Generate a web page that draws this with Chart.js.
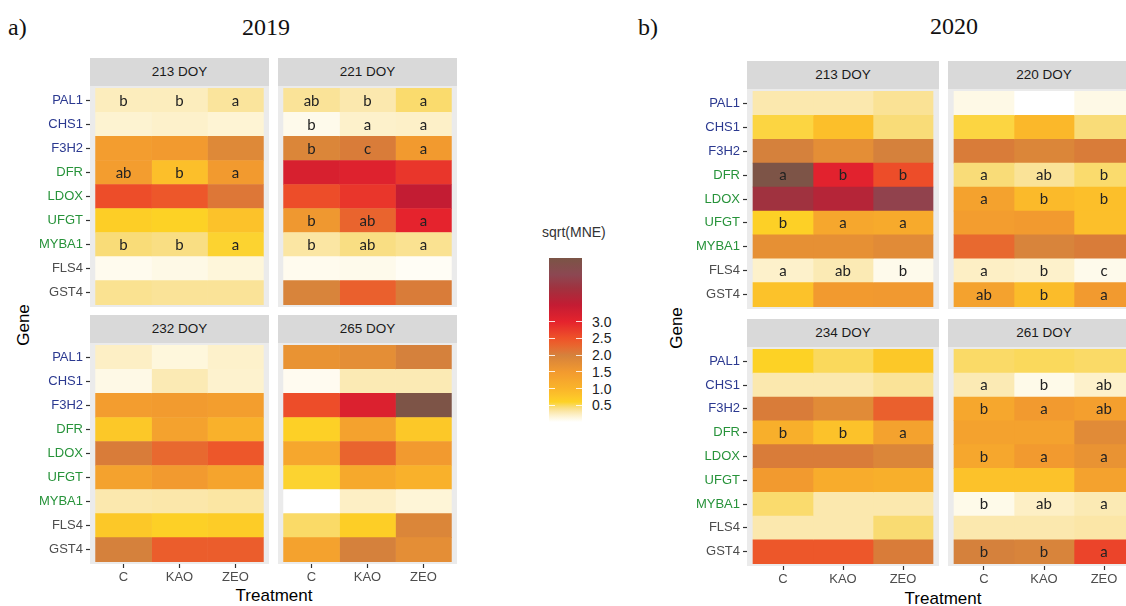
<!DOCTYPE html>
<html>
<head>
<meta charset="utf-8">
<script src="https://cdn.jsdelivr.net/npm/chart.js@4.4.1/dist/chart.umd.min.js"></script>
<style>
  body { margin: 0; width: 1126px; height: 606px; overflow: hidden; background: #fff; position: relative; font-family: "Liberation Sans", Arial, sans-serif; }
  .abs { position: absolute; }
  .serif { font-family: "Liberation Serif", "DejaVu Serif", serif; font-size: 24px; color: #111; }
  .strip { background: #D9D9D9; color: #1a1a1a; font-size: 13.5px; text-align: center; line-height: 28px; height: 28px; }
  .axtitle { font-size: 17px; color: #000; text-align: center; line-height: 20px; height: 20px; white-space: nowrap; }
  .rot { transform: rotate(-90deg); }
  .lgtick { font-size: 14px; color: #222; line-height: 16px; }
</style>
</head>
<body>
<div id="root"></div>
<script>
// genes (rows) and treatments (columns)
const genes = ['PAL1', 'CHS1', 'F3H2', 'DFR', 'LDOX', 'UFGT', 'MYBA1', 'FLS4', 'GST4'];
const treatments = ['C', 'KAO', 'ZEO'];
const legendTicks = [0.5, 1.0, 1.5, 2.0, 2.5, 3.0];
const legendMax = 4.9;

// sqrt(MNE), one row per gene, columns C, KAO, ZEO
const v2019_213 = [[0.25, 0.25, 0.35], [0.18, 0.2, 0.17], [1.45, 1.5, 1.85], [1.45, 0.85, 1.5], [2.55, 2.45, 2.1],
                   [0.65, 0.6, 0.8], [0.45, 0.42, 0.58], [0.07, 0.1, 0.15], [0.38, 0.36, 0.36]];
const v2019_221 = [[0.36, 0.3, 0.47], [0.08, 0.2, 0.21], [1.9, 2.05, 1.5], [3.2, 3.1, 2.8], [2.55, 2.8, 3.5],
                   [1.55, 2.3, 3.0], [0.33, 0.42, 0.38], [0.07, 0.08, 0.04], [1.95, 2.35, 2.05]];
const v2019_232 = [[0.22, 0.14, 0.2], [0.1, 0.28, 0.19], [1.45, 1.48, 1.42], [0.72, 1.35, 1.05], [2.05, 2.25, 2.45],
                   [1.35, 1.5, 1.3], [0.3, 0.31, 0.33], [0.72, 0.62, 0.67], [2.0, 2.38, 2.38]];
const v2019_265 = [[1.65, 1.75, 2.0], [0.06, 0.28, 0.28], [2.55, 3.15, 4.85], [0.63, 1.35, 0.72], [1.25, 2.3, 1.5],
                   [0.58, 1.22, 1.05], [0.0, 0.22, 0.16], [0.48, 0.65, 1.9], [1.35, 2.0, 1.75]];
const v2020_213 = [[0.3, 0.3, 0.37], [0.55, 0.85, 0.45], [2.0, 1.75, 2.0], [4.85, 3.05, 2.55], [4.0, 3.7, 4.3],
                   [0.62, 1.25, 1.2], [1.7, 1.7, 1.8], [0.2, 0.28, 0.08], [0.8, 1.5, 1.52]];
const v2020_220 = [[0.1, 0.0, 0.1], [0.55, 0.95, 0.45], [2.05, 1.9, 2.05], [0.45, 0.36, 0.47], [1.35, 0.92, 0.85],
                   [1.45, 1.5, 0.85], [2.25, 1.95, 2.05], [0.22, 0.2, 0.08], [1.35, 0.88, 1.5]];
const v2020_234 = [[0.6, 0.5, 0.72], [0.3, 0.3, 0.36], [2.05, 1.8, 2.35], [1.1, 0.8, 1.35], [2.05, 2.05, 1.9],
                   [1.5, 1.15, 1.1], [0.47, 0.3, 0.3], [0.3, 0.3, 0.46], [2.45, 2.45, 2.05]];
const v2020_261 = [[0.48, 0.5, 0.48], [0.28, 0.09, 0.2], [1.25, 1.5, 1.4], [1.35, 1.35, 1.8], [1.25, 1.5, 1.65],
                   [0.8, 0.8, 1.35], [0.09, 0.22, 0.28], [0.3, 0.3, 0.32], [2.0, 1.95, 2.65]];

// significance letters
const l2019_213 = [['b', 'b', 'a'], [], [], ['ab', 'b', 'a'], [], [], ['b', 'b', 'a'], [], []];
const l2019_221 = [['ab', 'b', 'a'], ['b', 'a', 'a'], ['b', 'c', 'a'], [], [], ['b', 'ab', 'a'], ['b', 'ab', 'a'], [], []];
const l2019_232 = [];
const l2019_265 = [];
const l2020_213 = [[], [], [], ['a', 'b', 'b'], [], ['b', 'a', 'a'], [], ['a', 'ab', 'b'], []];
const l2020_220 = [[], [], [], ['a', 'ab', 'b'], ['a', 'b', 'b'], [], [], ['a', 'b', 'c'], ['ab', 'b', 'a']];
const l2020_234 = [[], [], [], ['b', 'b', 'a'], [], [], [], [], []];
const l2020_261 = [[], ['a', 'b', 'ab'], ['b', 'a', 'ab'], [], ['b', 'a', 'a'], [], ['b', 'ab', 'a'], [], ['b', 'b', 'a']];

// label colours by gene group
const geneColors = ['#2b3990', '#2b3990', '#2b3990', '#27933a', '#27933a', '#27933a', '#27933a', '#4d4d4d', '#4d4d4d'];

// colour ramp for sqrt(MNE)
const stops = [
  [0, '#FFFFFF'], [0.15, '#FEF6DA'], [0.3, '#FBE8AE'], [0.45, '#F9DC78'], [0.6, '#FDD225'],
  [0.8, '#FCC22A'], [1.0, '#FAB42A'], [1.5, '#F29A2F'], [2.0, '#D5813C'], [2.25, '#E8692F'],
  [2.5, '#EE5229'], [3.0, '#E5232D'], [3.5, '#C31C33'], [4.0, '#A0323F'], [4.4, '#8C4752'], [4.9, '#7B5546']
];

function hexRgb(h) {
  return [parseInt(h.slice(1, 3), 16), parseInt(h.slice(3, 5), 16), parseInt(h.slice(5, 7), 16)];
}

function fillColor(v) {
  if (v <= stops[0][0]) return stops[0][1];
  for (let i = 1; i < stops.length; i++) {
    if (v <= stops[i][0]) {
      const t = (v - stops[i - 1][0]) / (stops[i][0] - stops[i - 1][0]);
      const a = hexRgb(stops[i - 1][1]), b = hexRgb(stops[i][1]);
      const c = a.map((x, k) => Math.round(x + (b[k] - x) * t));
      return 'rgb(' + c.join(',') + ')';
    }
  }
  return stops[stops.length - 1][1];
}

const root = document.getElementById('root');

function addDiv(cls, text, css) {
  const d = document.createElement('div');
  d.className = 'abs ' + cls;
  d.textContent = text;
  Object.assign(d.style, css);
  root.appendChild(d);
  return d;
}

// headings
addDiv('serif', 'a)', { left: '8px', top: '14px' });
addDiv('serif', '2019', { left: '216px', top: '14px', width: '100px', textAlign: 'center' });
addDiv('serif', 'b)', { left: '638px', top: '14px' });
addDiv('serif', '2020', { left: '904px', top: '13px', width: '100px', textAlign: 'center' });

addDiv('axtitle rot', 'Gene', { left: '-26px', top: '315px', width: '100px' });
addDiv('axtitle rot', 'Gene', { left: '627px', top: '318px', width: '100px' });
addDiv('axtitle', 'Treatment', { left: '224px', top: '586px', width: '100px' });
addDiv('axtitle', 'Treatment', { left: '893px', top: '589px', width: '100px' });

// colour bar legend
const bar = { left: 549, top: 258, w: 33, h: 164 };
addDiv('', 'sqrt(MNE)', { left: '542px', top: '224px', fontSize: '14px', color: '#333' });
const grad = [];
for (let i = 0; i <= 49; i++) {
  const v = legendMax * i / 49;
  grad.push(fillColor(v) + ' ' + (100 - i / 49 * 100).toFixed(2) + '%');
}
addDiv('', '', { left: bar.left + 'px', top: bar.top + 'px', width: bar.w + 'px', height: bar.h + 'px',
  background: 'linear-gradient(to bottom, ' + grad.reverse().join(', ') + ')' });
legendTicks.forEach(t => {
  const y = bar.top + bar.h - t / legendMax * bar.h;
  addDiv('', '', { left: bar.left + 'px', top: (y - 0.5) + 'px', width: '6px', height: '1px', background: 'rgba(255,255,255,0.85)' });
  addDiv('', '', { left: (bar.left + bar.w - 6) + 'px', top: (y - 0.5) + 'px', width: '6px', height: '1px', background: 'rgba(255,255,255,0.85)' });
  addDiv('lgtick', t.toFixed(1), { left: (bar.left + bar.w + 10) + 'px', top: (y - 8) + 'px' });
});

// panel geometry: grey panel area of each facet
const panels = [
  { title: '213 DOY', vals: v2019_213, letters: l2019_213, left: 90, top: 86, w: 179, h: 221, showY: true, showX: false },
  { title: '221 DOY', vals: v2019_221, letters: l2019_221, left: 278, top: 86, w: 179, h: 221, showY: false, showX: false },
  { title: '232 DOY', vals: v2019_232, letters: l2019_232, left: 90, top: 343, w: 179, h: 221, showY: true, showX: true },
  { title: '265 DOY', vals: v2019_265, letters: l2019_265, left: 278, top: 343, w: 179, h: 221, showY: false, showX: true },
  { title: '213 DOY', vals: v2020_213, letters: l2020_213, left: 747, top: 89, w: 192, h: 220, showY: true, showX: false },
  { title: '220 DOY', vals: v2020_220, letters: l2020_220, left: 948, top: 89, w: 192, h: 220, showY: false, showX: false },
  { title: '234 DOY', vals: v2020_234, letters: l2020_234, left: 747, top: 347, w: 192, h: 219, showY: true, showX: true },
  { title: '261 DOY', vals: v2020_261, letters: l2020_261, left: 948, top: 347, w: 192, h: 219, showY: false, showX: true }
];
const yAxisW = 75;
const xAxisH = 26;

Chart.defaults.font.family = '"Liberation Sans", Arial, sans-serif';
Chart.defaults.font.size = 13;

const panelBg = {
  id: 'panelBg',
  beforeDatasetsDraw(chart) {
    const { ctx, chartArea: a } = chart;
    ctx.save();
    ctx.fillStyle = '#EBEBEB';
    ctx.fillRect(a.left, a.top, a.right - a.left, a.bottom - a.top);
    ctx.restore();
  }
};

const cellLetters = {
  id: 'cellLetters',
  afterDatasetsDraw(chart, args, opts) {
    const { ctx, scales } = chart;
    ctx.save();
    ctx.font = '15px Lato, "Open Sans", sans-serif';
    ctx.fillStyle = '#222';
    ctx.textAlign = 'center';
    ctx.textBaseline = 'middle';
    (opts.letters || []).forEach((row, i) => {
      (row || []).forEach((txt, j) => {
        if (!txt) return;
        ctx.fillText(txt, scales.x.getPixelForValue(j + 1), scales.y.getPixelForValue(i + 1) + 0.5);
      });
    });
    ctx.restore();
  }
};

panels.forEach(p => {
  addDiv('strip', p.title, { left: p.left + 'px', top: (p.top - 28) + 'px', width: p.w + 'px' });

  const offX = p.showY ? yAxisW : 0;
  const wrap = document.createElement('div');
  wrap.className = 'abs';
  wrap.style.left = (p.left - offX) + 'px';
  wrap.style.top = p.top + 'px';
  const cv = document.createElement('canvas');
  const cw = p.w + offX, ch = p.h + (p.showX ? xAxisH : 0);
  cv.width = cw; cv.height = ch;
  cv.style.width = cw + 'px'; cv.style.height = ch + 'px';
  wrap.appendChild(cv);
  root.appendChild(wrap);

  const datasets = treatments.map((t, j) => ({
    label: t,
    data: genes.map((g, i) => ({ x: [j + 0.5, j + 1.5], y: i + 1 })),
    backgroundColor: genes.map((g, i) => fillColor(p.vals[i][j])),
    borderWidth: 0,
    barPercentage: 1,
    categoryPercentage: 1,
    grouped: false
  }));

  new Chart(cv, {
    type: 'bar',
    data: { datasets },
    options: {
      indexAxis: 'y',
      responsive: false,
      animation: false,
      events: [],
      layout: { padding: 0 },
      plugins: { legend: { display: false }, tooltip: { enabled: false }, cellLetters: { letters: p.letters } },
      scales: {
        x: {
          type: 'linear', min: 0.4, max: 3.6, display: p.showX, offset: false,
          afterBuildTicks: s => { s.ticks = [1, 2, 3].map(v => ({ value: v })); },
          afterFit: s => { s.height = p.showX ? xAxisH : 0; s.paddingLeft = 0; s.paddingRight = 0; },
          ticks: { callback: v => treatments[v - 1], color: '#4d4d4d', padding: 2, autoSkip: false, maxRotation: 0 },
          grid: { offset: false, drawOnChartArea: false, drawTicks: true, tickLength: 4, tickColor: '#333', tickWidth: 1.2 },
          border: { display: false }
        },
        y: {
          type: 'linear', min: 0.4, max: 9.6, reverse: true, display: p.showY, offset: false,
          afterBuildTicks: s => { s.ticks = genes.map((g, i) => ({ value: i + 1 })); },
          afterFit: s => { s.width = p.showY ? yAxisW : 0; s.paddingTop = 0; s.paddingBottom = 0; },
          ticks: { callback: v => genes[v - 1], color: c => geneColors[c.index], padding: 3, autoSkip: false },
          grid: { offset: false, drawOnChartArea: false, drawTicks: true, tickLength: 4, tickColor: '#333', tickWidth: 1.2 },
          border: { display: false }
        }
      }
    },
    plugins: [panelBg, cellLetters]
  });
});
</script>
</body>
</html>
